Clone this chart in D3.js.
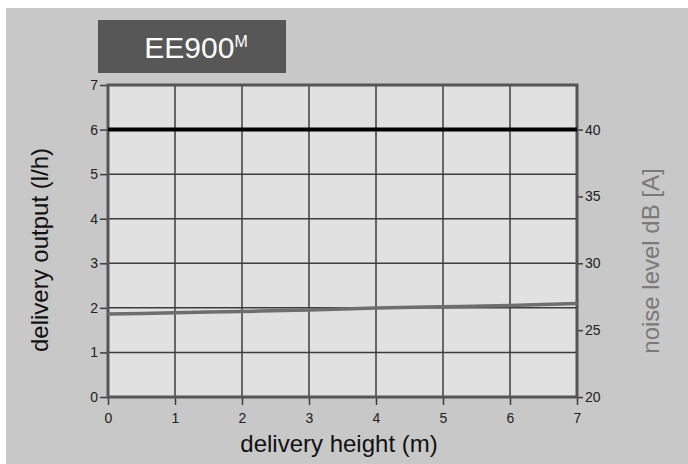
<!DOCTYPE html>
<html>
<head>
<meta charset="utf-8">
<title>EE900M</title>
<script src="https://d3js.org/d3.v7.min.js"></script>
<style>
  body { margin: 0; background: #fff; }
  svg { display: block; font-family: "Liberation Sans", Arial, sans-serif; }
</style>
</head>
<body>
<svg id="chart" width="688" height="464"></svg>
<script>
// delivery height (m)
var heights = [0, 1, 2, 3, 4, 5, 6, 7];
// delivery output (l/h) - flat
var output = [6, 6, 6, 6, 6, 6, 6, 6];
// noise level dB[A]
var noise = [26.2, 26.3, 26.4, 26.5, 26.65, 26.75, 26.85, 27.0];
var leftTicks = [0, 1, 2, 3, 4, 5, 6, 7];
var rightTicks = [20, 25, 30, 35, 40];

var svg = d3.select('#chart');
var m = { left: 108, right: 577, top: 85, bottom: 397 };

svg.append('rect').attr('x', 6).attr('y', 8).attr('width', 682).attr('height', 456)
  .attr('fill', '#c8c8c8');

// title box
svg.append('rect').attr('x', 98).attr('y', 20).attr('width', 188).attr('height', 53)
  .attr('fill', '#575757');
var title = svg.append('text').attr('x', 196).attr('y', 58).attr('text-anchor', 'middle')
  .attr('fill', '#fff').attr('font-size', 30);
title.append('tspan').text('EE900');
title.append('tspan').attr('font-size', 16).attr('dy', -11).text('M');

var x = d3.scaleLinear().domain([0, 7]).range([m.left, m.right]);
var y = d3.scaleLinear().domain([0, 7]).range([m.bottom, m.top]);
var y2 = d3.scaleLinear().domain([20, 40]).range([m.bottom, y(6)]);

svg.append('rect').attr('x', m.left).attr('y', m.top)
  .attr('width', m.right - m.left).attr('height', m.bottom - m.top)
  .attr('fill', '#e1e1e1');

// grid
var grid = svg.append('g').attr('stroke', '#3c3c3c').attr('stroke-width', 1.5);
grid.selectAll('.gx').data(heights).join('line')
  .attr('x1', d => x(d)).attr('x2', d => x(d)).attr('y1', m.top).attr('y2', m.bottom);
grid.selectAll('.gy').data(leftTicks).join('line')
  .attr('x1', m.left).attr('x2', m.right).attr('y1', d => y(d)).attr('y2', d => y(d));

// left axis
var ax = d3.axisLeft(y).tickValues(leftTicks).tickFormat(d3.format('d')).tickSize(8).tickPadding(2);
var gl = svg.append('g').attr('transform', 'translate(' + m.left + ',0)').call(ax);
// right axis
var ax2 = d3.axisRight(y2).tickValues(rightTicks).tickFormat(d3.format('d')).tickSize(6).tickPadding(2);
var gr = svg.append('g').attr('transform', 'translate(' + m.right + ',0)').call(ax2);
// bottom axis
var ax3 = d3.axisBottom(x).tickValues(heights).tickFormat(d3.format('d')).tickSize(8).tickPadding(8);
var gb = svg.append('g').attr('transform', 'translate(0,' + m.bottom + ')').call(ax3);

[gl, gr, gb].forEach(function (g) {
  g.select('.domain').remove();
  g.selectAll('line').attr('stroke', '#3c3c3c').attr('stroke-width', 1.5);
  g.selectAll('text').attr('font-size', 14).attr('fill', '#222')
    .attr('font-family', '"Liberation Sans", Arial, sans-serif');
});

// frame
svg.append('rect').attr('x', m.left).attr('y', m.top)
  .attr('width', m.right - m.left).attr('height', m.bottom - m.top)
  .attr('fill', 'none').attr('stroke', '#555').attr('stroke-width', 3);

// lines
svg.append('path').datum(heights.map((h, i) => [h, noise[i]]))
  .attr('fill', 'none').attr('stroke', '#6e6e6e').attr('stroke-width', 3.5)
  .attr('d', d3.line().curve(d3.curveMonotoneX).x(d => x(d[0])).y(d => y2(d[1])));
svg.append('path').datum(heights.map((h, i) => [h, output[i]]))
  .attr('fill', 'none').attr('stroke', '#000').attr('stroke-width', 4)
  .attr('d', d3.line().x(d => x(d[0])).y(d => y(d[1])));

// axis titles
svg.append('text').attr('x', 339).attr('y', 452).attr('text-anchor', 'middle')
  .attr('font-size', 24).attr('fill', '#111').text('delivery height (m)');
svg.append('text').attr('transform', 'translate(48,250) rotate(-90)')
  .attr('text-anchor', 'middle').attr('font-size', 24).attr('fill', '#111')
  .text('delivery output (l/h)');
svg.append('text').attr('transform', 'translate(659,261) rotate(-90)')
  .attr('text-anchor', 'middle').attr('font-size', 24).attr('fill', '#7a7a7a')
  .text('noise level dB [A]');
</script>
</body>
</html>
